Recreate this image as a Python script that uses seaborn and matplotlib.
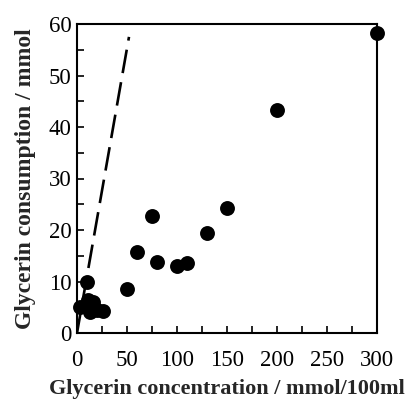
import matplotlib
matplotlib.use("Agg")
import matplotlib.pyplot as plt
import seaborn as sns
import numpy as np
import pandas as pd
from matplotlib.ticker import MultipleLocator

conc = [300, 200, 150, 130, 75, 60, 80, 100, 110, 50, 10, 3, 11, 16, 13, 20, 26]
cons = [58.3, 43.3, 24.3, 19.5, 22.8, 15.7, 13.7, 13.0, 13.5, 8.6, 10.0, 5.0, 6.4, 6.0, 4.1, 4.5, 4.2]
line_x = [0, 52]
line_y = [0, 57.5]

sns.set_theme(style="ticks")
plt.rcParams['font.family'] = ['Liberation Serif', 'DejaVu Serif']

df = pd.DataFrame({"conc": conc, "cons": cons})
fig = plt.figure(figsize=(4.08, 4.01), dpi=100)
ax = fig.add_axes([77/408, 1-333/401, 300/408, 309/401])
ax.plot(line_x, line_y, color="black", lw=1.9, ls=(0, (9, 3.5)))
sns.scatterplot(data=df, x="conc", y="cons", ax=ax, s=115, color="black", edgecolor="black", linewidth=0, zorder=3, clip_on=False)
ax.set_xlim(0, 300)
ax.set_ylim(0, 60)
ax.xaxis.set_major_locator(MultipleLocator(50))
ax.xaxis.set_minor_locator(MultipleLocator(25))
ax.yaxis.set_major_locator(MultipleLocator(10))
ax.yaxis.set_minor_locator(MultipleLocator(5))
ax.tick_params(which="both", direction="in", top=False, right=False, labelsize=16.5, width=1.2, colors="black", length=5)
ax.tick_params(axis="x", pad=12)
ax.tick_params(axis="y", pad=4)
for sp in ax.spines.values():
    sp.set_linewidth(1.5)
    sp.set_color("black")
ax.set_xlabel("Glycerin concentration / mmol/100ml", fontsize=16, fontweight="bold", labelpad=6)
ax.set_ylabel("Glycerin consumption / mmol", fontsize=17, fontweight="bold", labelpad=9)
fig.savefig("out.png", dpi=100)
